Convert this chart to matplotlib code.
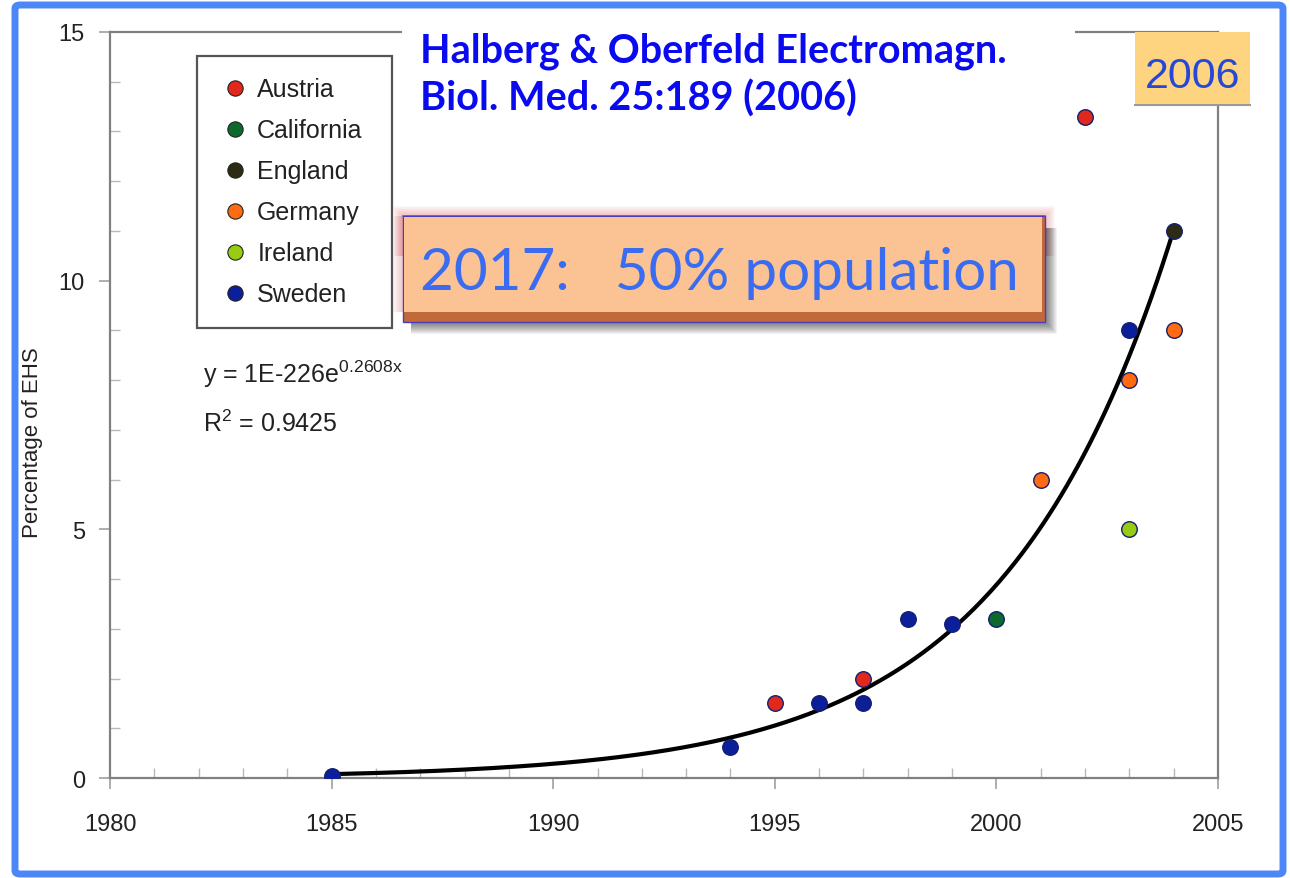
import numpy as np
import matplotlib
matplotlib.use("Agg")
import matplotlib.pyplot as plt
from matplotlib.patches import FancyBboxPatch, Rectangle
from matplotlib.lines import Line2D
from matplotlib.ticker import MultipleLocator

plt.rcParams['font.family'] = ['Liberation Sans', 'DejaVu Sans']
plt.rcParams['mathtext.fontset'] = 'custom'
plt.rcParams['mathtext.rm'] = 'Liberation Sans'

# --- data: EHS prevalence by country and year ---
countries = ['Austria', 'California', 'England', 'Germany', 'Ireland', 'Sweden']
colors = ['#e2281c', '#0c6a2c', '#2e2b14', '#ff6a12', '#98cc12', '#0b1f9a']
years = {
    'Austria':    [1995, 1997, 2002],
    'California': [2000],
    'England':    [2004],
    'Germany':    [2001, 2003, 2004],
    'Ireland':    [2003],
    'Sweden':     [1985, 1994, 1996, 1997, 1998, 1999, 2003],
}
pct = {
    'Austria':    [1.5, 2.0, 13.3],
    'California': [3.2],
    'England':    [11.0],
    'Germany':    [6.0, 8.0, 9.0],
    'Ireland':    [5.0],
    'Sweden':     [0.05, 0.62, 1.5, 1.5, 3.2, 3.1, 9.0],
}
trend_rate = 0.2608      # exponent of the exponential trendline
r_squared = 0.9425

W, H = 1290, 879
fig = plt.figure(figsize=(W / 100, H / 100), dpi=100)
fig.patch.set_facecolor('white')


def fx(px):
    return px / W


def fy(py):
    return 1 - py / H


def box(x0, y0, x1, y1, **kw):
    # rectangle given in pixel coords (y from top)
    r = Rectangle((fx(x0), fy(y1)), fx(x1) - fx(x0), fy(y0) - fy(y1),
                  transform=fig.transFigure, **kw)
    fig.patches.append(r)
    return r


ax = fig.add_axes([fx(110), fy(779), fx(1218) - fx(110), fy(33) - fy(779)])
ax.set_xlim(1980, 2005)
ax.set_ylim(0, 15)

# trendline: fixed rate, intercept from log-data
all_x = np.concatenate([years[c] for c in countries]).astype(float)
all_y = np.concatenate([pct[c] for c in countries])
log_a = np.mean(np.log(all_y)) - trend_rate * np.mean(all_x)
xs = np.linspace(all_x.min(), all_x.max(), 300)
ax.plot(xs, np.exp(log_a + trend_rate * xs), color='black', lw=3, zorder=3)

for c, col in zip(countries, colors):
    ax.scatter(years[c], pct[c], s=125, color=col, edgecolor='#14206e',
               linewidth=1.0, zorder=4)

# axes styling
for s in ax.spines.values():
    s.set_color('#808080')
    s.set_linewidth(1.6)
ax.xaxis.set_major_locator(MultipleLocator(5))
ax.xaxis.set_minor_locator(MultipleLocator(1))
ax.yaxis.set_major_locator(MultipleLocator(5))
ax.yaxis.set_minor_locator(MultipleLocator(1))
ax.tick_params(which='major', direction='out', length=8, width=1.2,
               color='#a0a0a0', labelsize=17, labelcolor='#222222')
ax.tick_params(which='minor', direction='in', length=7, width=1.0,
               color='#b8b8b8')
ax.tick_params(axis='x', which='major', pad=17)
ax.tick_params(axis='y', which='major', pad=10)
ax.set_ylabel('Percentage of EHS', fontsize=16, color='#222222', va='center')
ax.yaxis.set_label_coords((33 - 110) / 1108, (779 - 443) / 746)

# legend stretched across a fixed box
handles = [Line2D([], [], ls='none', marker='o', markersize=11,
                  markerfacecolor=col, markeredgecolor='#222222',
                  markeredgewidth=0.8) for col in colors]
lx0, ly0, lx1, ly1 = 197, 57, 392, 330
leg = ax.legend(handles, countries, loc='upper left', mode='expand',
                bbox_to_anchor=((lx0 - 110) / 1108, (779 - ly1) / 746,
                                (lx1 - lx0) / 1108, (ly1 - ly0) / 746),
                borderaxespad=0, fontsize=18, labelspacing=0.68,
                handletextpad=0.25, handlelength=1.3, borderpad=0.86,
                fancybox=False, framealpha=1)
leg.get_frame().set_edgecolor('#555555')
leg.get_frame().set_linewidth(1.6)
for t in leg.get_texts():
    t.set_color('#222222')

ax.text(fx(203), fy(383), r'y = 1E-226e$^{\mathregular{%.4fx}}$' % trend_rate,
        transform=fig.transFigure, fontsize=18, color='#222222', va='baseline')
ax.text(fx(203), fy(432), r'R$^{\mathregular{2}}$ = %.4f' % r_squared,
        transform=fig.transFigure, fontsize=18, color='#222222', va='baseline')

# white panel behind the citation (hides the top spine)
box(402, 24, 1075, 122, facecolor='white', edgecolor='none', zorder=2)
fig.text(fx(420), fy(62), 'Halberg & Oberfeld Electromagn.', fontsize=28.5,
         family='Lato', weight='bold', color='#0a0af0', va='baseline', zorder=5)
fig.text(fx(420), fy(111), 'Biol. Med. 25:189 (2006)', fontsize=28.5,
         family='Lato', weight='bold', color='#0a0af0', va='baseline', zorder=5)

# year badge
box(1135, 33, 1250, 105, facecolor='#fed481', edgecolor='none', zorder=2)
fig.lines.append(Line2D([fx(1135), fx(1250)], [fy(106), fy(106)],
                        transform=fig.transFigure, color='#9a9a9a', lw=1.5,
                        zorder=2))
fig.text(fx(1193), fy(88), '2006', fontsize=31, color='#2548d8',
         ha='center', va='baseline', zorder=5)

# callout box: red glow, soft drop shadow, bevelled bottom edge
bx0, by0, bx1, by1 = 403, 217, 1045, 323
for k in range(1, 11):
    box(bx0 - k, by0 - k, bx1 + k, by0 + 40, facecolor='#d84848',
        edgecolor='none', alpha=0.035, zorder=6)
    box(bx0 - k, by0, bx0, by1 - 10, facecolor='#d84848',
        edgecolor='none', alpha=0.03, zorder=6)
for k in range(1, 13):
    box(bx0 + 8, by0 + 12, bx1 + k, by1 + k, facecolor='black',
        edgecolor='none', alpha=0.05, zorder=6)
box(bx0, by0, bx1, by1, facecolor='#c2693a', edgecolor='#4a3cc0', lw=1.0,
    zorder=7)
box(bx0 + 1, by0 + 1, bx1 - 3, by1 - 10, facecolor='#fbc393',
    edgecolor='none', zorder=7)
fig.lines.append(Line2D([fx(bx0), fx(bx1)], [fy(by0), fy(by0)],
                        transform=fig.transFigure, color='#7a5ab8', lw=1.2,
                        zorder=7))
fig.text(fx(420), fy(290), '2017:   50% population', fontsize=42,
         family='Lato', color='#3a6cf2', va='baseline', zorder=8)

# outer frame
fig.patches.append(FancyBboxPatch((fx(15), fy(875)), fx(1283) - fx(15),
                                  fy(6) - fy(875),
                                  boxstyle='round,pad=0,rounding_size=0.004',
                                  transform=fig.transFigure, facecolor='none',
                                  edgecolor='#4b87f6', lw=5, zorder=9))

fig.savefig('out.png', dpi=100, facecolor='white')
